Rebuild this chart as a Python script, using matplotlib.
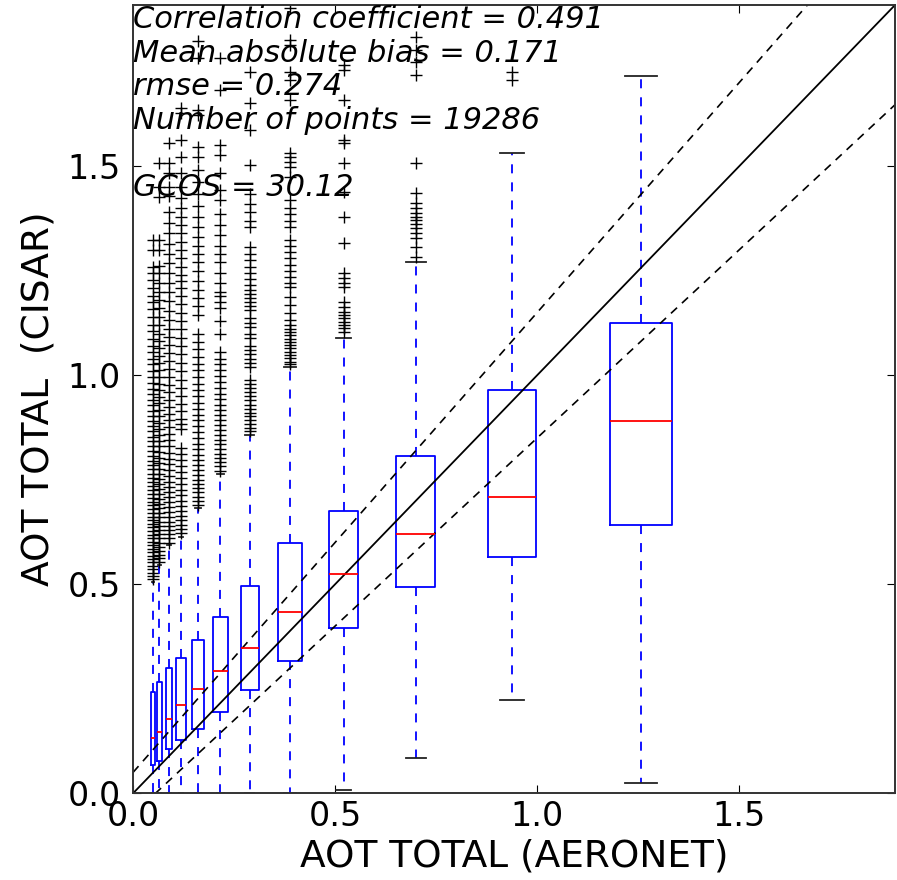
import matplotlib
matplotlib.use('Agg')
import matplotlib.pyplot as plt

# bin centres (AERONET AOT) and box widths
positions = [0.049, 0.065, 0.089, 0.119, 0.160, 0.216, 0.289, 0.389, 0.521, 0.700, 0.938, 1.257]
widths = [0.010, 0.013, 0.016, 0.023, 0.029, 0.037, 0.044, 0.058, 0.073, 0.096, 0.121, 0.155]

# CISAR AOT box statistics per bin
medians = [0.132, 0.147, 0.179, 0.211, 0.250, 0.292, 0.348, 0.434, 0.524, 0.620, 0.710, 0.890]
q1 = [0.067, 0.077, 0.106, 0.128, 0.155, 0.195, 0.247, 0.317, 0.396, 0.494, 0.566, 0.641]
q3 = [0.242, 0.266, 0.299, 0.323, 0.367, 0.423, 0.495, 0.600, 0.675, 0.807, 0.964, 1.125]
whislo = [0.0, 0.0, 0.0, 0.0, 0.0, 0.0, 0.0, 0.0, 0.009, 0.085, 0.224, 0.025]
whishi = [0.505, 0.546, 0.594, 0.614, 0.683, 0.764, 0.858, 1.019, 1.089, 1.272, 1.532, 1.716]

fliers = [
    [0.512, 0.52, 0.528, 0.536, 0.545, 0.553, 0.56, 0.568, 0.577, 0.585, 0.594, 0.602, 0.61,
     0.619, 0.628, 0.637, 0.645, 0.654, 0.662, 0.671, 0.68, 0.69, 0.698, 0.707, 0.716, 0.726,
     0.735, 0.745, 0.755, 0.764, 0.775, 0.786, 0.796, 0.808, 0.818, 0.83, 0.842, 0.853, 0.866,
     0.878, 0.89, 0.903, 0.915, 0.928, 0.94, 0.955, 0.968, 0.982, 0.997, 1.01, 1.026, 1.04,
     1.055, 1.07, 1.088, 1.105, 1.12, 1.14, 1.158, 1.175, 1.19, 1.21, 1.228, 1.245, 1.26,
     1.30, 1.323],
    [0.553, 0.562, 0.571, 0.58, 0.59, 0.6, 0.61, 0.62, 0.63, 0.64, 0.65, 0.66, 0.67, 0.682,
     0.693, 0.705, 0.716, 0.728, 0.74, 0.752, 0.764, 0.776, 0.79, 0.803, 0.816, 0.83, 0.844,
     0.858, 0.872, 0.887, 0.902, 0.918, 0.933, 0.948, 0.964, 0.98, 0.996, 1.013, 1.03, 1.047,
     1.065, 1.083, 1.1, 1.12, 1.14, 1.16, 1.18, 1.2, 1.22, 1.245, 1.262, 1.30, 1.323, 1.427,
     1.45, 1.508],
    [0.60, 0.61, 0.62, 0.63, 0.64, 0.65, 0.66, 0.672, 0.684, 0.696, 0.708, 0.72, 0.733, 0.746,
     0.76, 0.773, 0.787, 0.8, 0.815, 0.83, 0.845, 0.86, 0.876, 0.892, 0.908, 0.925, 0.942,
     0.96, 0.978, 0.996, 1.015, 1.034, 1.053, 1.072, 1.092, 1.112, 1.133, 1.155, 1.177, 1.2,
     1.222, 1.245, 1.268, 1.29, 1.315, 1.34, 1.365, 1.39, 1.43, 1.45, 1.484, 1.508, 1.556],
    [0.622, 0.632, 0.642, 0.653, 0.664, 0.676, 0.688, 0.70, 0.713, 0.726, 0.74, 0.754, 0.768,
     0.783, 0.798, 0.813, 0.826, 0.872, 0.884, 0.896, 0.914, 0.932, 0.95, 0.97, 0.99, 1.01,
     1.03, 1.05, 1.07, 1.09, 1.11, 1.13, 1.15, 1.17, 1.19, 1.21, 1.225, 1.24, 1.26, 1.28, 1.3,
     1.32, 1.34, 1.36, 1.38, 1.4, 1.425, 1.45, 1.484, 1.522, 1.563, 1.627, 1.639],
    [0.69, 0.70, 0.71, 0.72, 0.73, 0.74, 0.75, 0.762, 0.774, 0.786, 0.798, 0.81, 0.823, 0.836,
     0.85, 0.864, 0.878, 0.892, 0.906, 0.92, 0.935, 0.95, 0.965, 0.98, 0.996, 1.012, 1.028,
     1.045, 1.062, 1.08, 1.098, 1.145, 1.165, 1.185, 1.205, 1.225, 1.25, 1.27, 1.29, 1.31,
     1.33, 1.355, 1.38, 1.405, 1.435, 1.462, 1.491, 1.522, 1.546, 1.622, 1.634, 1.76, 1.80],
    [0.772, 0.782, 0.792, 0.802, 0.813, 0.824, 0.835, 0.846, 0.858, 0.87, 0.882, 0.894, 0.906,
     0.918, 0.93, 0.943, 0.956, 0.97, 0.984, 0.998, 1.012, 1.026, 1.04, 1.055, 1.1, 1.13,
     1.16, 1.175, 1.19, 1.2, 1.22, 1.245, 1.27, 1.29, 1.31, 1.335, 1.36, 1.385, 1.419, 1.443,
     1.484, 1.527, 1.551, 1.683, 1.76],
    [0.866, 0.875, 0.884, 0.893, 0.902, 0.911, 0.92, 0.93, 0.94, 0.95, 0.96, 0.97, 0.98, 0.99,
     1.02, 1.03, 1.04, 1.05, 1.06, 1.07, 1.09, 1.10, 1.115, 1.125, 1.136, 1.156, 1.165, 1.175,
     1.185, 1.195, 1.204, 1.215, 1.23, 1.245, 1.26, 1.275, 1.29, 1.307, 1.355, 1.37, 1.39,
     1.41, 1.435, 1.503, 1.587, 1.651, 1.726],
    [1.026, 1.033, 1.041, 1.049, 1.057, 1.065, 1.072, 1.08, 1.088, 1.096, 1.104, 1.112, 1.12,
     1.132, 1.148, 1.168, 1.188, 1.211, 1.222, 1.235, 1.25, 1.265, 1.28, 1.295, 1.31, 1.324,
     1.355, 1.37, 1.385, 1.40, 1.419, 1.474, 1.498, 1.51, 1.522, 1.532, 1.658, 1.706, 1.726,
     1.79, 1.802, 1.88],
    [1.103, 1.113, 1.12, 1.127, 1.137, 1.144, 1.152, 1.163, 1.175, 1.211, 1.22, 1.233, 1.244,
     1.316, 1.378, 1.438, 1.508, 1.556, 1.563, 1.658, 1.73, 1.743],
    [1.283, 1.307, 1.328, 1.34, 1.352, 1.361, 1.371, 1.378, 1.388, 1.40, 1.412, 1.436, 1.508,
     1.718, 1.75, 1.778, 1.809],
    [1.706, 1.726],
    [],
]

corr = 0.491
bias = 0.171
rmse = 0.274
npoints = 19286
gcos = 30.12
gcos_abs = 0.05
gcos_rel = 0.10
lim = 1.886


def main():
    fig = plt.figure(figsize=(8.97, 8.80), dpi=100)
    ax = fig.add_axes([0.1483, 0.0985, 0.8495, 0.8958])

    stats = []
    for i in range(len(positions)):
        stats.append(dict(med=medians[i], q1=q1[i], q3=q3[i],
                          whislo=whislo[i], whishi=whishi[i], fliers=fliers[i]))

    ax.bxp(stats, positions=positions, widths=widths, manage_ticks=False,
           boxprops=dict(color='blue', linewidth=1.3),
           medianprops=dict(color='red', linewidth=1.3),
           whiskerprops=dict(color='blue', linewidth=1.3, linestyle=(0, (5, 5))),
           capprops=dict(color='#222222', linewidth=1.3),
           flierprops=dict(marker='+', markeredgecolor='black', markersize=8,
                           markeredgewidth=1.0, linestyle='none'))

    # 1:1 line and GCOS envelope
    xs = [0, lim]
    ax.plot(xs, xs, 'k-', linewidth=1.3)
    ax.plot(xs, [gcos_abs + (1 + gcos_rel) * x for x in xs], color='black',
            linewidth=1.2, linestyle=(0, (5, 4)))
    ax.plot(xs, [-gcos_abs + (1 - gcos_rel) * x for x in xs], color='black',
            linewidth=1.2, linestyle=(0, (5, 4)))

    ax.set_xlim(0, lim)
    ax.set_ylim(0, lim)
    ax.set_xticks([0.0, 0.5, 1.0, 1.5])
    ax.set_yticks([0.0, 0.5, 1.0, 1.5])
    ax.tick_params(direction='in', top=True, right=True, labelsize=24, length=6)
    ax.tick_params(axis='y', pad=9)
    ax.tick_params(axis='x', pad=5)
    for s in ax.spines.values():
        s.set_color('#333333')
        s.set_linewidth(1.4)

    ax.set_xlabel('AOT TOTAL (AERONET)', fontsize=27, labelpad=4)
    ax.set_ylabel('AOT TOTAL  (CISAR)', fontsize=27, labelpad=8)

    txt = ('Correlation coefficient = %.3f\nMean absolute bias = %.3f\nrmse = %.3f\n'
           'Number of points = %d\n\nGCOS = %.2f' % (corr, bias, rmse, npoints, gcos))
    ax.text(0.0, 1.0, txt, transform=ax.transAxes, va='top', ha='left',
            fontsize=22, style='italic', linespacing=1.2)

    fig.savefig('out.png', dpi=100)


if __name__ == '__main__':
    main()
